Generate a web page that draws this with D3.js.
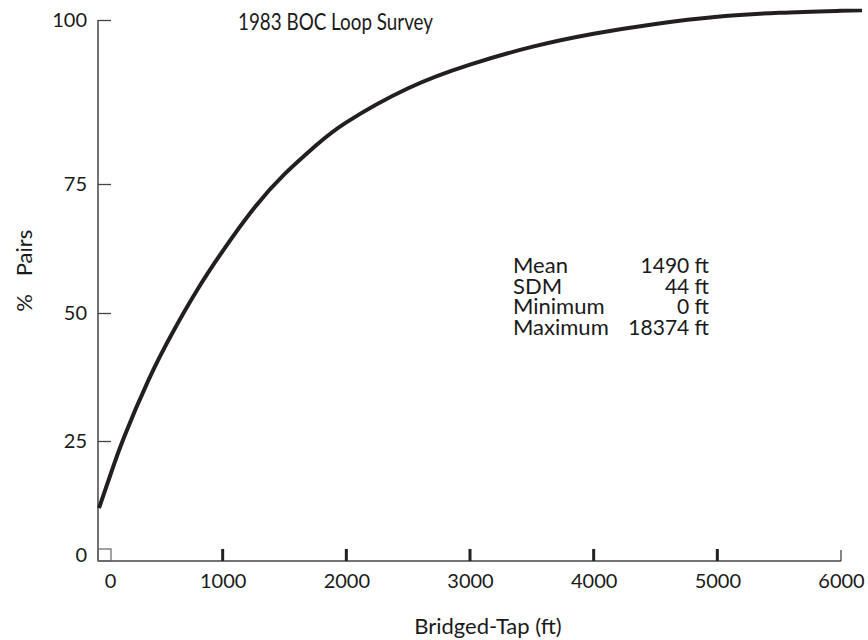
<!DOCTYPE html>
<html>
<head>
<meta charset="utf-8">
<script src="https://cdn.jsdelivr.net/npm/d3@7/dist/d3.min.js"></script>
<style>
  html, body { margin: 0; padding: 0; background: #fff; }
  svg { display: block; }
  text { font-family: "Lato", "DejaVu Sans", sans-serif; fill: #1a1a1a; }
</style>
</head>
<body>
<svg id="chart" width="868" height="640"></svg>
<script>
// ---- data ----
const tapFeet = [0, 100, 200, 400, 600, 800, 1000, 1250, 1500, 1750, 2000, 2500, 3000, 3500, 4000, 4500, 5000, 5500, 6000, 6170];
const pctPairs = [10.3, 18.2, 25.6, 36.9, 46.4, 54.7, 62.0, 70.2, 76.5, 80.8, 84.4, 89.6, 93.2, 95.9, 97.9, 99.4, 100.5, 101.1, 101.4, 101.5];
const xTicks = [0, 1000, 2000, 3000, 4000, 5000, 6000];
const yTicks = [0, 25, 50, 75, 100];
const statLabels = ["Mean", "SDM", "Minimum", "Maximum"];
const statValues = ["1490 ft", "44 ft", "0 ft", "18374 ft"];
const title = "1983 BOC Loop Survey";
const xTitle = "Bridged-Tap (ft)";
const yTitleParts = ["%", "Pairs"];

const svg = d3.select("#chart");
const x = d3.scaleLinear().domain([0, 6000]).range([99, 841]);
// the printed axis is not evenly spaced; follow its tick positions
const y = d3.scaleLinear().domain(yTicks).range([555, 441, 313, 184, 20]);
const axisY = 561;
const axisX = 98;
const ink = "#222";

// axis lines
svg.append("line").attr("x1", axisX).attr("x2", axisX).attr("y1", y(100)).attr("y2", axisY)
  .attr("stroke", "#444").attr("stroke-width", 1.5);
svg.append("line").attr("x1", axisX).attr("x2", x(6000)).attr("y1", axisY).attr("y2", axisY)
  .attr("stroke", "#444").attr("stroke-width", 1.5);

// y axis
const gy = svg.append("g").attr("transform", `translate(${axisX},0)`)
  .call(d3.axisLeft(y).tickValues(yTicks).tickSizeInner(-13).tickSizeOuter(0).tickPadding(11));
gy.select(".domain").remove();
gy.selectAll(".tick line").attr("stroke", "#444").attr("stroke-width", 1.3)
  .style("display", d => d === 0 ? "none" : null);
gy.selectAll(".tick text").attr("font-size", 20).attr("font-family", null).style("fill", "#1a1a1a");

// x axis labels
const gx = svg.append("g").attr("transform", `translate(0,${axisY})`)
  .call(d3.axisBottom(x).tickValues(xTicks).tickFormat(d3.format("d")).tickSizeInner(0).tickSizeOuter(0).tickPadding(13));
gx.select(".domain").remove();
gx.selectAll(".tick text").attr("font-size", 20).attr("font-family", null).style("fill", "#1a1a1a")
  .attr("dx", d => d === 0 ? 11 : 0);

// x tick marks
svg.selectAll(".xmajor").data(xTicks.filter(d => d > 0 && d < 6000)).join("rect")
  .attr("class", "xmajor")
  .attr("x", d => x(d) - 1.5).attr("width", 3)
  .attr("y", axisY - 12).attr("height", 12).attr("fill", ink);
svg.append("line").attr("x1", x(6000)).attr("x2", x(6000)).attr("y1", axisY - 11).attr("y2", axisY)
  .attr("stroke", "#444").attr("stroke-width", 1.3);
svg.append("rect").attr("x", axisX).attr("y", axisY - 12).attr("width", 13).attr("height", 12)
  .attr("fill", "none").attr("stroke", "#666").attr("stroke-width", 1.2);

// curve
const line = d3.line().x((d, i) => x(tapFeet[i])).y(d => y(d)).curve(d3.curveNatural);
svg.append("path").datum(pctPairs).attr("d", line)
  .attr("fill", "none").attr("stroke", "#231f20").attr("stroke-width", 4).attr("stroke-linecap", "butt");

// titles
svg.append("text").attr("x", 238).attr("y", 30).attr("font-size", 23.5)
  .attr("textLength", 195).attr("lengthAdjust", "spacingAndGlyphs").text(title);
svg.append("text").attr("x", 488).attr("y", 634).attr("text-anchor", "middle").attr("font-size", 22).text(xTitle);
const yTitleCenters = [303, 253];
svg.selectAll(".ytitle").data(yTitleParts).join("text").attr("class", "ytitle")
  .attr("transform", (d, i) => `translate(32,${yTitleCenters[i]}) rotate(-90)`)
  .attr("text-anchor", "middle").attr("font-size", 22).text(d => d);

// stats block
const rowBase = [273, 294, 314, 335];
svg.selectAll(".slab").data(statLabels).join("text").attr("class", "slab")
  .attr("x", 513).attr("y", (d, i) => rowBase[i]).attr("font-size", 22).text(d => d);
svg.selectAll(".sval").data(statValues).join("text").attr("class", "sval")
  .attr("x", 709).attr("y", (d, i) => rowBase[i]).attr("text-anchor", "end").attr("font-size", 21).text(d => d);
</script>
</body>
</html>
